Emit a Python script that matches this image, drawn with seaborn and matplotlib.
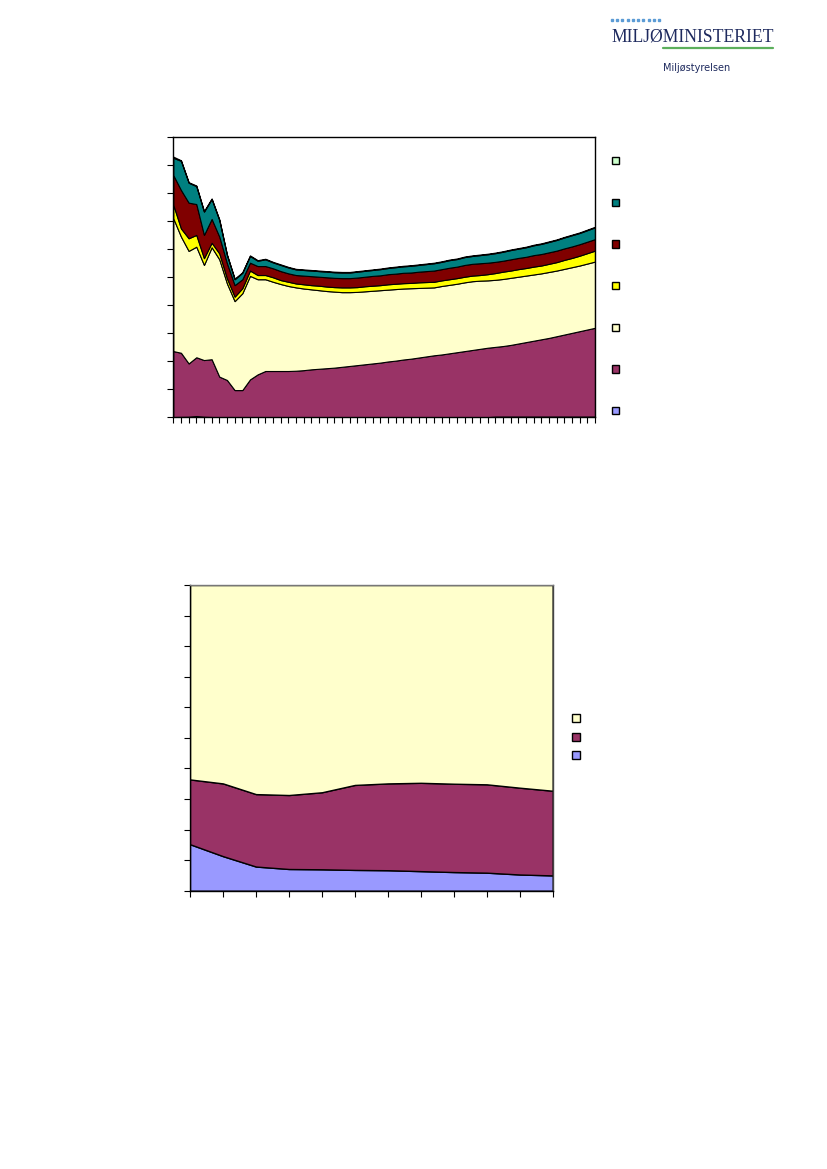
import numpy as np
import pandas as pd
import matplotlib
matplotlib.use("Agg")
import matplotlib.pyplot as plt
from matplotlib.patches import Rectangle
from matplotlib.lines import Line2D
import seaborn as sns

# ── Chart 1 data (stacked layers, 56 periods) ───────────────────────────────
periods_1 = list(range(56))

lavender_1 = [0.1, 0.15, 0.2, 0.45, 0.2, 0.1] + [0.05] * 36 + [0.25] * 14
purple_1 = [23.5, 22.85, 19.0, 20.95, 20.2, 20.6, 14.45, 13.25, 9.65, 9.65,
            13.45, 15.25, 16.45, 16.45, 16.45, 16.45, 16.55, 16.75, 17.05, 17.25,
            17.45, 17.65, 17.95, 18.25, 18.55, 18.85, 19.15, 19.45, 19.85, 20.15,
            20.55, 20.85, 21.25, 21.65, 22.05, 22.35, 22.75, 23.15, 23.55, 23.95,
            24.35, 24.75, 24.85, 25.15, 25.55, 26.05, 26.55, 27.05, 27.55, 28.05,
            28.65, 29.25, 29.85, 30.45, 31.05, 31.65]
light_yellow_1 = [47.3, 41.4, 40.1, 39.4, 33.9, 39.9, 41.8, 34.4, 31.7, 34.5,
                  36.9, 33.9, 32.7, 31.8, 31.0, 30.3, 29.7, 29.1, 28.5, 28.0,
                  27.5, 27.1, 26.6, 26.3, 26.1, 26.0, 25.9, 25.8, 25.6, 25.5,
                  25.3, 25.1, 24.8, 24.5, 24.2, 24.4, 24.4, 24.4, 24.5, 24.5,
                  24.3, 24.0, 23.9, 23.9, 23.9, 23.8, 23.7, 23.6, 23.5, 23.5,
                  23.4, 23.4, 23.4, 23.4, 23.5, 23.6]
yellow_1 = [4.8, 2.9, 4.5, 4.2, 2.4, 1.6, 2.1, 1.8, 1.6, 1.8,
            1.9, 1.5, 1.5, 1.6, 1.4, 1.5, 1.4, 1.5, 1.5, 1.6,
            1.6, 1.6, 1.7, 1.7, 1.7, 1.8, 1.8, 1.8, 1.9, 1.9,
            1.9, 1.9, 2.0, 2.0, 2.0, 2.0, 2.0, 2.0, 2.0, 2.0,
            2.0, 2.2, 2.4, 2.6, 2.6, 2.7, 2.7, 2.8, 2.8, 2.9,
            3.0, 3.2, 3.3, 3.5, 3.7, 3.9]
dark_red_1 = [10.6, 13.7, 12.7, 11.0, 8.3, 8.5, 6.0, 5.4, 4.1, 3.2,
              2.8, 3.2, 3.2, 3.2, 3.2, 3.0, 3.0, 3.1, 3.2, 3.2,
              3.3, 3.3, 3.3, 3.3, 3.4, 3.4, 3.5, 3.5, 3.6, 3.6,
              3.7, 3.7, 3.8, 3.9, 4.0, 4.0, 4.1, 4.1, 4.2, 4.2,
              4.2, 4.1, 4.0, 3.9, 4.0, 4.0, 4.0, 4.1, 4.1, 4.1,
              4.1, 4.1, 4.1, 4.1, 4.1, 4.1]
teal_1 = [6.2, 10.4, 7.1, 6.4, 8.3, 7.1, 5.9, 2.9, 2.1, 2.3,
          2.4, 1.9, 2.4, 2.1, 2.2, 2.1, 2.0, 2.0, 2.0, 2.0,
          2.0, 2.0, 2.0, 2.0, 2.1, 2.1, 2.1, 2.2, 2.2, 2.3,
          2.3, 2.4, 2.4, 2.5, 2.6, 2.6, 2.7, 2.7, 2.8, 2.8,
          2.9, 3.0, 3.1, 3.2, 3.3, 3.3, 3.4, 3.5, 3.6, 3.7,
          3.8, 3.9, 4.0, 4.0, 4.1, 4.2]
light_green_1 = [0.4] + [0.2] * 55

# ── Chart 2 data (100 % stacked, 12 periods) ────────────────────────────────
periods_2 = list(range(12))
lavender_2 = [15.2, 11.3, 7.9, 7.1, 7.0, 6.8, 6.7, 6.4, 6.1, 5.9, 5.3, 5.0]
purple_2 = [21.2, 23.8, 23.7, 24.2, 25.2, 27.8, 28.4, 28.9, 28.9, 28.9, 28.4, 27.7]
light_yellow_2 = [63.6, 64.9, 68.4, 68.7, 67.8, 65.4, 64.9, 64.7, 65.0, 65.2, 66.3, 67.3]

COLORS_1 = ["#9999FF", "#993366", "#FFFFCC", "#FFFF00", "#800000", "#008080", "#CCFFCC"]
COLORS_2 = ["#9999FF", "#993366", "#FFFFCC"]

sns.set_style("white")
plt.rcParams["font.family"] = ["DejaVu Sans"]

W, H = 827, 1169
fig = plt.figure(figsize=(W / 100, H / 100), dpi=100)


def px_axes(x0, y0, x1, y1):
    return fig.add_axes([x0 / W, 1 - y1 / H, (x1 - x0) / W, (y1 - y0) / H])


def legend_squares(cx, ys, size, colors):
    for y, c in zip(ys, colors):
        fig.add_artist(Rectangle(((cx - size / 2) / W, 1 - (y + size / 2) / H),
                                 size / W, size / H, transform=fig.transFigure,
                                 facecolor=c, edgecolor="black", linewidth=1.0))


# ── Chart 1 ─────────────────────────────────────────────────────────────────
df1 = pd.DataFrame({
    "lavender": lavender_1, "purple": purple_1, "light_yellow": light_yellow_1,
    "yellow": yellow_1, "dark_red": dark_red_1, "teal": teal_1,
    "light_green": light_green_1,
}, index=periods_1)

ax1 = px_axes(173.3, 136.7, 595, 417.3)
ax1.stackplot(df1.index, df1.T.values, colors=COLORS_1,
              edgecolor="black", linewidth=0.8)
ax1.set_xlim(0, 55)
ax1.set_ylim(0, 100)
ax1.set_yticks(np.arange(0, 101, 10))
ax1.set_xticks(periods_1)
ax1.set_xticklabels([])
ax1.set_yticklabels([])
ax1.tick_params(axis="both", direction="out", length=4, width=0.8, color="black",
                bottom=True, left=True)
for sp in ax1.spines.values():
    sp.set_color("black")
    sp.set_linewidth(1.0)

legend_squares(615, [160.7, 202.3, 244, 285.7, 327.7, 369, 410.7], 7,
               COLORS_1[::-1])

# ── Chart 2 ─────────────────────────────────────────────────────────────────
df2 = pd.DataFrame({"lavender": lavender_2, "purple": purple_2,
                    "light_yellow": light_yellow_2}, index=periods_2)

ax2 = px_axes(190, 585, 552.7, 890.7)
ax2.stackplot(df2.index, df2.T.values, colors=COLORS_2,
              edgecolor="black", linewidth=1.0)
ax2.set_xlim(0, 11)
ax2.set_ylim(0, 100)
ax2.set_yticks(np.arange(0, 101, 10))
ax2.set_xticks(periods_2)
ax2.set_xticklabels([])
ax2.set_yticklabels([])
ax2.tick_params(axis="both", direction="out", length=4, width=0.8, color="black",
                bottom=True, left=True)
ax2.spines["left"].set_color("black")
ax2.spines["bottom"].set_color("black")
ax2.spines["top"].set_color("#777777")
ax2.spines["right"].set_color("#444444")
for sp in ax2.spines.values():
    sp.set_linewidth(1.0)

legend_squares(576, [718, 737, 755], 8, COLORS_2[::-1])

# ── Logo ────────────────────────────────────────────────────────────────────
navy = "#1E2A5E"
dot_x = np.linspace(612, 659, 10)
fig.add_artist(Line2D(dot_x / W, [1 - 20 / H] * 10, transform=fig.transFigure,
                      linestyle="none", marker="s", markersize=1.6,
                      color="#5B9BD5"))
fig.text(611 / W, 1 - 37.5 / H, "MILJØMINISTERIET", family="Liberation Serif",
         fontsize=12.7, color=navy, ha="left", va="center")
fig.add_artist(Line2D([663 / W, 773 / W], [1 - 47.5 / H] * 2,
                      transform=fig.transFigure, color="#5CAF5C", linewidth=1.6))
fig.text(663 / W, 1 - 68 / H, "Miljøstyrelsen", family="DejaVu Sans",
         fontsize=7, color=navy, ha="left", va="center")

fig.savefig("out.png", dpi=100)
